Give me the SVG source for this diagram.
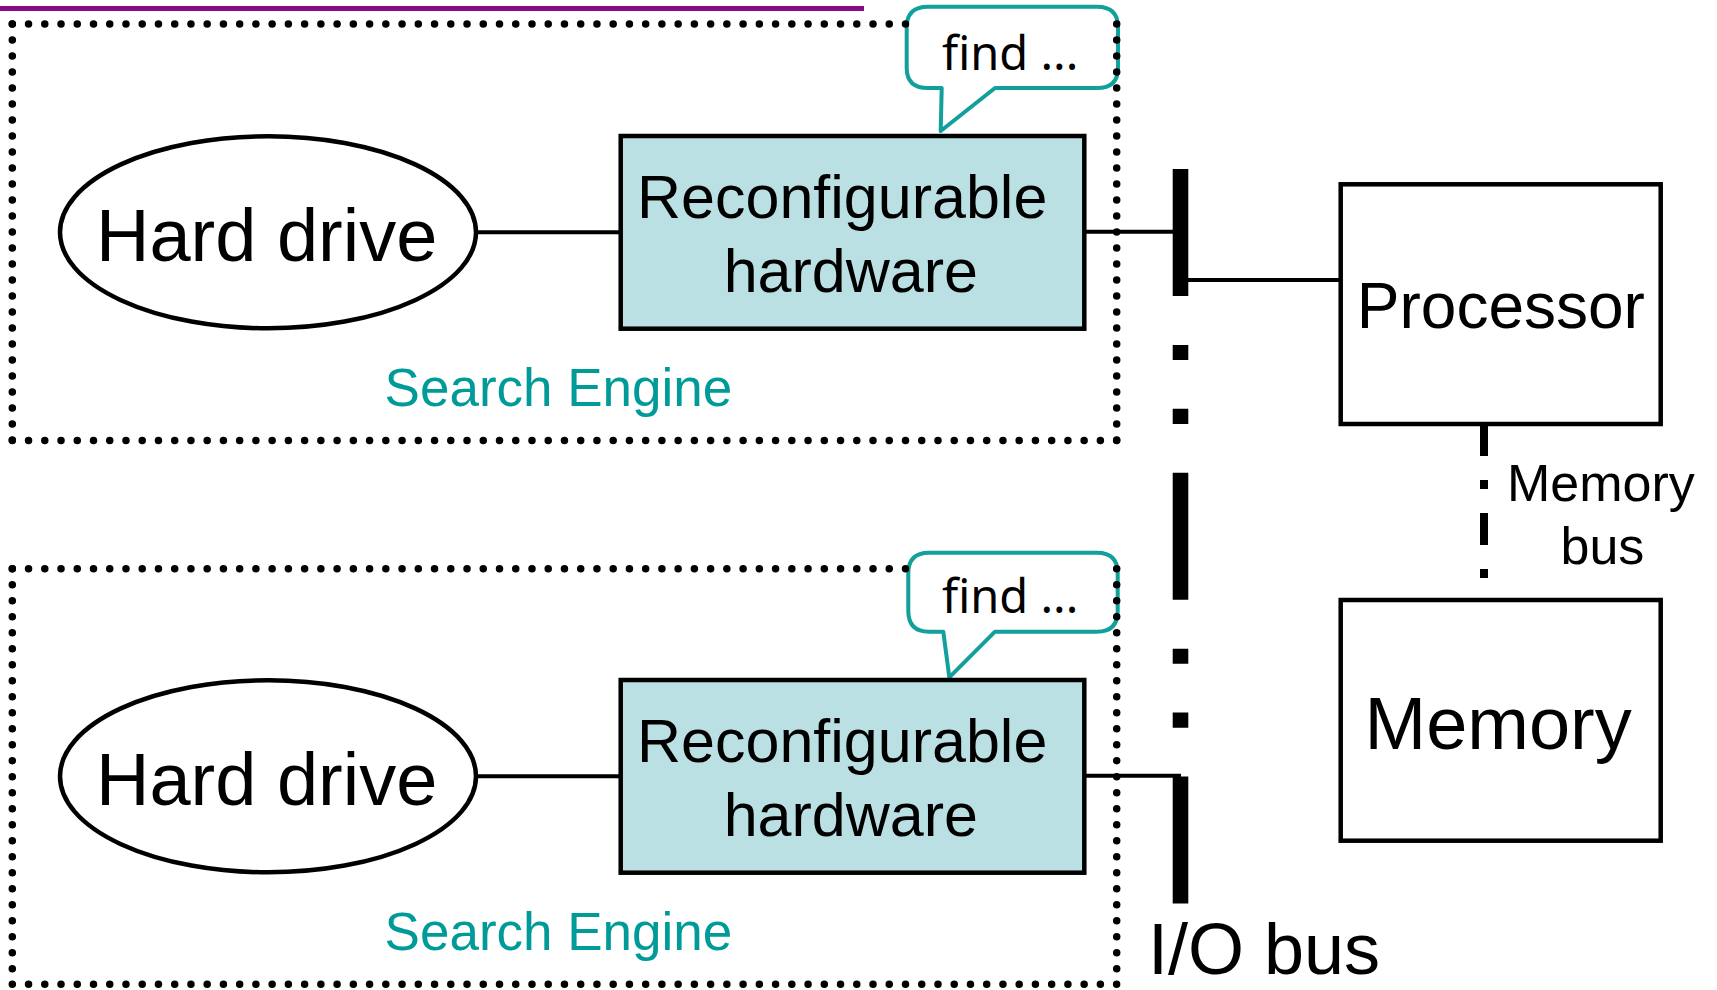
<svg xmlns="http://www.w3.org/2000/svg" width="1717" height="990" viewBox="0 0 1717 990">
<style>
.t{font-family:"Liberation Sans",Arial,sans-serif;fill:#000}
.teal{fill:#009b98}
.find{font-family:"Noto Sans","DejaVu Sans",sans-serif;font-size:47px;fill:#000}
.dh{stroke:#000;stroke-width:7.5;stroke-linecap:round;stroke-dasharray:0 16.24;fill:none}
.dv{stroke:#000;stroke-width:7.5;stroke-linecap:round;stroke-dasharray:0 16;fill:none}
.box{stroke:#000;stroke-width:4.5}
.wire{stroke:#000;stroke-width:4;fill:none}
.bubble{fill:#fff;stroke:#12a09c;stroke-width:4;stroke-linejoin:round}
</style>
<rect width="1717" height="990" fill="#fff"/>
<line x1="0" y1="8.5" x2="864" y2="8.5" stroke="#870a87" stroke-width="5"/>

<g id="callout-1">
<path class="bubble" d="M928,6.7 H1097 Q1118,6.7 1118,27 V68 Q1118,88 1097,88 H995 L940.7,131 L941.7,88 H928 Q906.7,88 906.7,68 V27 Q906.7,6.7 928,6.7 Z"/>
<text class="find" x="942" y="70">find ...</text>
</g>
<g id="callout-2">
<path class="bubble" d="M929,552.7 H1097 Q1117.7,552.7 1117.7,573 V611 Q1117.7,631.7 1097,631.7 H995 L949.3,677.3 L943.3,631.7 H929 Q908.3,631.7 908.3,611 V573 Q908.3,552.7 929,552.7 Z"/>
<text class="find" x="942" y="613">find ...</text>
</g>

<g id="search-engine-1">
<line class="dh" x1="12.3" y1="24" x2="905.5" y2="24"/>
<line class="dh" x1="12.3" y1="440.5" x2="1116.7" y2="440.5"/>
<line class="dv" x1="12.3" y1="24" x2="12.3" y2="440.5"/>
<line class="dv" x1="1116.7" y1="24" x2="1116.7" y2="440.5"/>
<text class="t teal" x="384.6" y="406" font-size="53">Search Engine</text>
</g>
<g id="search-engine-2">
<line class="dh" x1="12.3" y1="568.7" x2="905.5" y2="568.7"/>
<line class="dh" x1="12.3" y1="984.3" x2="1116.7" y2="984.3"/>
<line class="dv" x1="12.3" y1="568.7" x2="12.3" y2="984.3"/>
<line class="dv" x1="1116.7" y1="568.7" x2="1116.7" y2="984.3"/>
<text class="t teal" x="384.6" y="950" font-size="53">Search Engine</text>
</g>

<g id="connectors">
<line class="wire" x1="476" y1="232.3" x2="625" y2="232.3"/>
<line class="wire" x1="1084" y1="231.7" x2="1176" y2="231.7"/>
<line class="wire" x1="1185" y1="280" x2="1340.7" y2="280"/>
<line class="wire" x1="476" y1="776.3" x2="625" y2="776.3"/>
<line class="wire" x1="1084" y1="775.7" x2="1181" y2="775.7"/>
<line id="io-bus" x1="1180.5" y1="169" x2="1180.5" y2="904" stroke="#000" stroke-width="15.6" stroke-dasharray="127 49 15 48.7 15.3 48.7"/>
<line id="memory-bus" x1="1484" y1="424" x2="1484" y2="578" stroke="#000" stroke-width="8" stroke-dasharray="32 24 9 24"/>
</g>

<g id="hard-drive-1">
<ellipse cx="268" cy="232.3" rx="208" ry="96" fill="#fff" class="box"/>
<text class="t" x="96" y="261" font-size="74">Hard drive</text>
</g>
<g id="reconfigurable-hardware-1">
<rect x="620.7" y="136" width="463.6" height="192.7" fill="#bae0e3" class="box"/>
<text class="t" x="637" y="218" font-size="61">Reconfigurable</text>
<text class="t" x="723.7" y="291.7" font-size="61">hardware</text>
</g>
<g id="hard-drive-2">
<ellipse cx="268" cy="776.3" rx="208" ry="96" fill="#fff" class="box"/>
<text class="t" x="96" y="805" font-size="74">Hard drive</text>
</g>
<g id="reconfigurable-hardware-2">
<rect x="620.7" y="680" width="463.6" height="192.7" fill="#bae0e3" class="box"/>
<text class="t" x="637" y="762" font-size="61">Reconfigurable</text>
<text class="t" x="723.7" y="835.7" font-size="61">hardware</text>
</g>
<g id="processor">
<rect x="1340.7" y="184.3" width="320" height="239.7" fill="#fff" class="box"/>
<text class="t" x="1356.8" y="327.7" font-size="64">Processor</text>
</g>
<g id="memory">
<rect x="1340.7" y="600" width="320" height="240.7" fill="#fff" class="box"/>
<text class="t" x="1364.5" y="749" font-size="74">Memory</text>
</g>
<g id="labels">
<text class="t" x="1148" y="974" font-size="72">I/O bus</text>
<text class="t" x="1507" y="500.7" font-size="52">Memory</text>
<text class="t" x="1560.5" y="564.3" font-size="52">bus</text>
</g>
</svg>
